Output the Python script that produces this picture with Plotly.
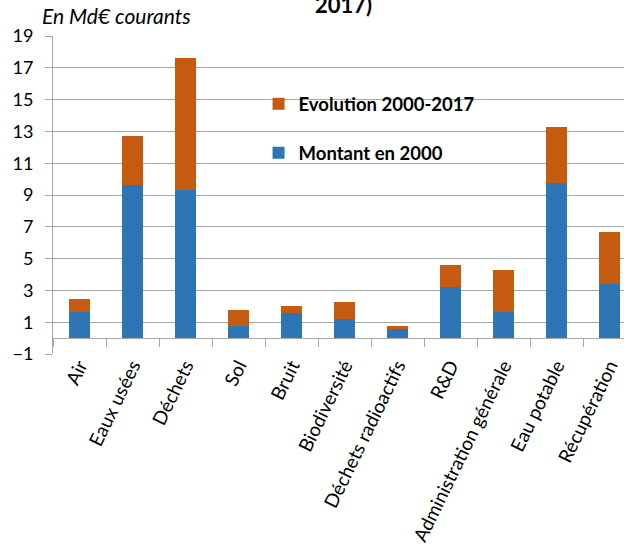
import plotly.graph_objects as go

categories = ["Air", "Eaux usées", "Déchets", "Sol", "Bruit", "Biodiversité",
              "Déchets radioactifs", "R&D", "Administration générale",
              "Eau potable", "Récupération"]
montant_2000 = [1.65, 9.62, 9.31, 0.77, 1.57, 1.19, 0.63, 3.24, 1.63, 9.77, 3.43]
evolution_2000_2017 = [0.80, 3.08, 8.29, 1.01, 0.48, 1.05, 0.10, 1.36, 2.66, 3.53, 3.22]
series_names = ["Montant en 2000", "Evolution 2000-2017"]
y_unit = "En Md€ courants"
title_tail = "2017)"

FONT = "Lato"
GRID = "#a8a8a8"
BLUE = "#2e75b6"
ORANGE = "#c55a11"

n = len(categories)
x_idx = list(range(n))

fig = go.Figure()
fig.add_trace(go.Bar(x=x_idx, y=montant_2000, name=series_names[0],
                     marker=dict(color=BLUE, line=dict(width=0)),
                     legendgroup="a", legendrank=2))
fig.add_trace(go.Bar(x=x_idx, y=evolution_2000_2017, name=series_names[1],
                     marker=dict(color=ORANGE, line=dict(width=0)),
                     legendgroup="b", legendrank=1))
# helper trace for the category-boundary tick axis at y=0
fig.add_trace(go.Scatter(x=[None], y=[None], xaxis="x2", showlegend=False,
                         hoverinfo="skip"))

xr = [-0.5, n - 0.5 - 0.23]

fig.update_layout(
    width=624, height=550, autosize=False,
    margin=dict(l=53, r=0, t=36, b=196),
    barmode="stack", bargap=0.6,
    plot_bgcolor="white", paper_bgcolor="white",
    font=dict(family=FONT, size=18, color="#000000"),
    showlegend=True,
    legend=dict(x=0.36, y=0.845, xanchor="left", yanchor="top",
                traceorder="grouped", tracegroupgap=22,
                font=dict(family=FONT, size=18.5, color="#000000", weight="bold"),
                bgcolor="rgba(0,0,0,0)"),
    xaxis=dict(range=xr, tickmode="array", tickvals=x_idx, ticktext=categories,
               tickangle=-64, showgrid=False, zeroline=False, showline=False,
               ticks="", automargin=False, ticklabelstandoff=-4,
               tickfont=dict(family=FONT, size=19)),
    xaxis2=dict(overlaying="x", anchor="free", position=0.05, range=xr,
                tickmode="array", tickvals=[i - 0.5 for i in range(n + 1)],
                ticks="outside", ticklen=8, tickcolor=GRID, tickwidth=1,
                showticklabels=False, showgrid=False, zeroline=False,
                showline=False, automargin=False),
    yaxis=dict(range=[-1, 19], tick0=-1, dtick=2, showgrid=True, gridcolor=GRID,
               gridwidth=1, zeroline=True, zerolinecolor=GRID, zerolinewidth=1,
               showline=True, linecolor=GRID, linewidth=1, ticks="outside",
               ticklen=7, tickcolor=GRID, ticklabelstandoff=8, automargin=False,
               tickfont=dict(family=FONT, size=18)),
    annotations=[
        dict(text=y_unit, xref="paper", yref="paper", x=-0.022, y=1.018,
             xanchor="left", yanchor="bottom", showarrow=False,
             font=dict(family=FONT, size=21, style="italic", color="#000000")),
        dict(text=title_tail, xref="paper", yref="paper", x=0.508, y=1.05,
             xanchor="center", yanchor="bottom", showarrow=False,
             font=dict(family=FONT, size=22, weight="bold", color="#000000")),
    ],
)

fig.write_html("out.html", config={"displayModeBar": False},
               post_script="document.body.style.margin='0';")
